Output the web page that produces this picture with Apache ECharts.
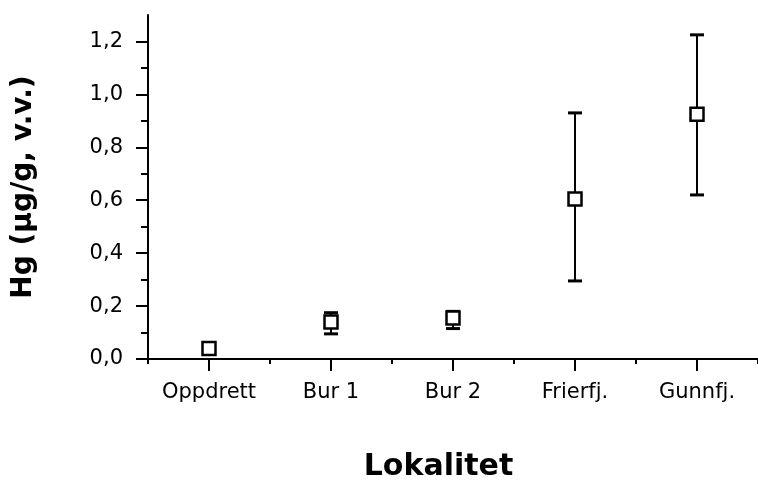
<!DOCTYPE html>
<html>
<head>
<meta charset="utf-8">
<script src="https://cdn.jsdelivr.net/npm/echarts@6/dist/echarts.min.js"></script>
<style>
  html, body { margin: 0; padding: 0; background: #fff; }
  #chart { width: 758px; height: 487px; }
</style>
</head>
<body>
<div id="chart"></div>
<script>
const categories = ['Oppdrett', 'Bur 1', 'Bur 2', 'Frierfj.', 'Gunnfj.']
const means = [0.04, 0.14, 0.155, 0.605, 0.925]
const lows = [0.03, 0.095, 0.115, 0.295, 0.62]
const highs = [0.05, 0.175, 0.18, 0.93, 1.225]
const yMajorTicks = [0, 0.2, 0.4, 0.6, 0.8, 1.0, 1.2]
const yMinorTicks = [0.1, 0.3, 0.5, 0.7, 0.9, 1.1]

const font = 'DejaVu Sans'
const chart = echarts.init(document.getElementById('chart'))

const errData = categories.map((c, i) => [i, lows[i], highs[i]])

const option = {
  animation: false,
  grid: { left: 148, top: 15, width: 615, height: 348 },
  xAxis: [
    {
      type: 'category',
      data: categories,
      boundaryGap: true,
      axisLine: { lineStyle: { color: '#000', width: 2 } },
      axisTick: { show: true, interval: 0, length: 5, lineStyle: { color: '#000', width: 2 } },
      axisLabel: { interval: 0, hideOverlap: false, color: '#000', fontFamily: font, fontSize: 21, margin: 23 },
      name: 'Lokalitet',
      nameLocation: 'middle',
      nameGap: 93,
      nameTextStyle: { color: '#000', fontFamily: font, fontWeight: 'bold', fontSize: 30, padding: [0, 29, 0, 0] },
    },
    {
      type: 'category',
      data: categories,
      boundaryGap: true,
      position: 'bottom',
      axisLine: { show: false },
      axisTick: { show: true, interval: 0, alignWithLabel: true, length: 12, lineStyle: { color: '#000', width: 2 } },
      axisLabel: { show: false, interval: 0 },
    },
  ],
  yAxis: [
    {
      type: 'value',
      min: 0,
      max: 1.3,
      axisLine: { show: true, lineStyle: { color: '#000', width: 2 } },
      axisTick: { show: true, customValues: yMajorTicks, length: 12, lineStyle: { color: '#000', width: 2 } },
      axisLabel: {
        customValues: yMajorTicks,
        color: '#000', fontFamily: font, fontSize: 21, margin: 25,
        formatter: (v) => v.toFixed(1).replace('.', ','),
      },
      splitLine: { show: false },
      name: 'Hg (µg/g, v.v.)',
      nameLocation: 'middle',
      nameGap: 110,
      nameTextStyle: { color: '#000', fontFamily: font, fontWeight: 'bold', fontSize: 28 },
    },
    {
      type: 'value',
      min: 0,
      max: 1.3,
      position: 'left',
      axisLine: { show: false },
      axisTick: { show: true, customValues: yMinorTicks, length: 7, lineStyle: { color: '#000', width: 2 } },
      axisLabel: { show: false },
      splitLine: { show: false },
    },
  ],
  series: [
    {
      type: 'custom',
      xAxisIndex: 0,
      yAxisIndex: 0,
      data: errData,
      renderItem: (params, api) => {
        const lo = api.coord([api.value(0), api.value(1)])
        const hi = api.coord([api.value(0), api.value(2)])
        const hw = 7
        const capStyle = { stroke: '#000', lineWidth: 3 }
        return {
          type: 'group',
          children: [
            { type: 'line', shape: { x1: lo[0], y1: lo[1], x2: hi[0], y2: hi[1] }, style: { stroke: '#000', lineWidth: 2 } },
            { type: 'line', shape: { x1: lo[0] - hw, y1: lo[1], x2: lo[0] + hw, y2: lo[1] }, style: capStyle },
            { type: 'line', shape: { x1: hi[0] - hw, y1: hi[1], x2: hi[0] + hw, y2: hi[1] }, style: capStyle },
          ],
        }
      },
      z: 2,
    },
    {
      type: 'scatter',
      xAxisIndex: 0,
      yAxisIndex: 0,
      data: means,
      symbol: 'rect',
      symbolSize: 13,
      itemStyle: { color: '#fff', borderColor: '#000', borderWidth: 2.5, opacity: 1 },
      z: 3,
    },
  ],
}
chart.setOption(option)
</script>
</body>
</html>
